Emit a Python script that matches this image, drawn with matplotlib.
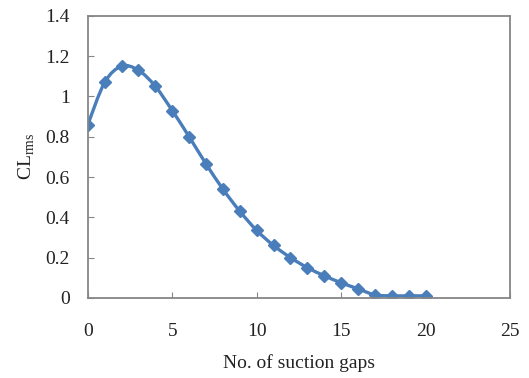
import numpy as np
import matplotlib
matplotlib.use('Agg')
import matplotlib.pyplot as plt
from matplotlib.path import Path
from matplotlib.patches import PathPatch

gaps = [0, 1, 2, 3, 4, 5, 6, 7, 8, 9, 10, 11, 12, 13, 14, 15, 16, 17, 18, 19, 20]
cl_rms = [0.86, 1.07, 1.15, 1.13, 1.05, 0.93, 0.80, 0.665, 0.54, 0.43, 0.335,
          0.26, 0.20, 0.15, 0.11, 0.075, 0.045, 0.015, 0.01, 0.01, 0.01]
xticks = [0, 5, 10, 15, 20, 25]
yticks = [0, 0.2, 0.4, 0.6, 0.8, 1.0, 1.2, 1.4]
ylabels = ['0', '0.2', '0.4', '0.6', '0.8', '1', '1.2', '1.4']

plt.rcParams['font.family'] = 'Liberation Serif'
blue = '#4a7ebb'
grey = '#868686'

fig = plt.figure(figsize=(5.29, 3.78), dpi=100)
ax = fig.add_axes([0.166, 0.212, 0.798, 0.746])

# smoothed line like excel (catmull-rom as bezier segments)
x = np.array(gaps, float)
y = np.array(cl_rms, float)
verts = [(x[0], y[0])]
codes = [Path.MOVETO]
for i in range(len(x) - 1):
    p0 = (x[max(i - 1, 0)], y[max(i - 1, 0)])
    p1 = (x[i], y[i])
    p2 = (x[i + 1], y[i + 1])
    p3 = (x[min(i + 2, len(x) - 1)], y[min(i + 2, len(x) - 1)])
    c1 = (p1[0] + (p2[0] - p0[0]) / 6, p1[1] + (p2[1] - p0[1]) / 6)
    c2 = (p2[0] - (p3[0] - p1[0]) / 6, p2[1] - (p3[1] - p1[1]) / 6)
    verts += [c1, c2, p2]
    codes += [Path.CURVE4] * 3
ax.add_patch(PathPatch(Path(verts, codes), fill=False, edgecolor=blue, lw=2.4))
ax.plot(gaps, cl_rms, ls='none', marker='D', ms=6.5, color=blue)

ax.set_xlim(0, 25)
ax.set_ylim(0, 1.4)
ax.set_xticks(xticks)
ax.set_yticks(yticks)
ax.set_yticklabels(ylabels)
ax.tick_params(direction='in', length=4, color=grey, labelsize=14, labelcolor='#222222')
ax.tick_params(axis='y', pad=13)
ax.tick_params(axis='x', pad=18)
for s in ax.spines.values():
    s.set_color(grey)
    s.set_linewidth(1.3)

ax.set_xlabel('No. of suction gaps', fontsize=14, labelpad=10, color='#222222')
ax.set_ylabel(r'CL$_{\mathregular{rms}}$', fontsize=14, labelpad=6, color='#222222')

fig.savefig('out.png', dpi=100)
